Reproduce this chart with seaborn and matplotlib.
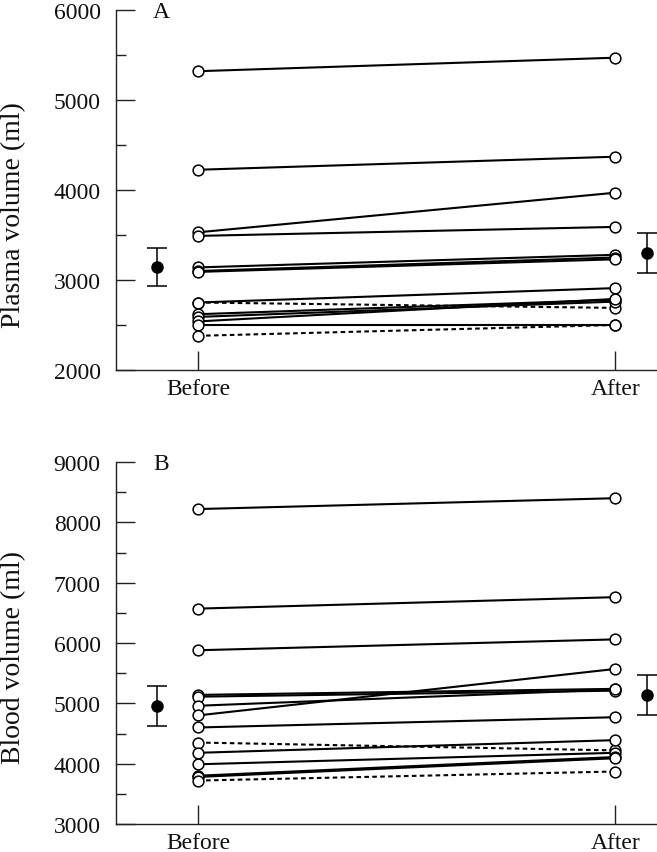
import numpy as np
import pandas as pd
import matplotlib
matplotlib.use("Agg")
import matplotlib.pyplot as plt
import seaborn as sns
from matplotlib.ticker import MultipleLocator

# ---------------- data ----------------
time_labels = ["Before", "After"]

plasma_before = [5320, 4225, 3530, 3490, 3140, 3100, 3090, 2750, 2750, 2620, 2590, 2540, 2500, 2380]
plasma_after  = [5470, 4370, 3970, 3590, 3280, 3250, 3230, 2910, 2690, 2780, 2760, 2790, 2500, 2500]
plasma_style  = ["s", "s", "s", "s", "s", "s", "s", "s", "d", "s", "s", "s", "s", "d"]
plasma_mean   = [3145, 3300]
plasma_sd     = [210, 225]

blood_before = [8220, 6570, 5880, 5140, 5110, 4960, 4800, 4600, 4350, 4180, 3990, 3800, 3780, 3720]
blood_after  = [8400, 6760, 6060, 5240, 5210, 5230, 5570, 4770, 4220, 4390, 4180, 4110, 4090, 3870]
blood_style  = ["s", "s", "s", "s", "s", "s", "s", "s", "d", "s", "s", "s", "s", "d"]
blood_mean   = [4960, 5140]
blood_sd     = [330, 335]

sns.set_style("ticks")
plt.rcParams["font.family"] = ["Liberation Serif", "DejaVu Serif"]

fig = plt.figure(figsize=(6.57, 8.53), dpi=100)
axA = fig.add_axes([116/657, 1-371/853, 1-116/657, (371-11)/853])
axB = fig.add_axes([116/657, 1-825/853, 1-116/657, (825-463)/853])

def long_df(before, after, style):
    rows = []
    for i, (b, a, s) in enumerate(zip(before, after, style)):
        rows.append(dict(subject=i, x=0, value=b, kind=s))
        rows.append(dict(subject=i, x=1, value=a, kind=s))
    return pd.DataFrame(rows)

def panel(ax, before, after, style, mean, sd, ylim, ylabel, letter, label_y):
    df = long_df(before, after, style)
    sns.lineplot(data=df, x="x", y="value", units="subject", estimator=None,
                 style="kind", dashes={"s": "", "d": (2.2, 1.6)},
                 color="black", linewidth=1.5, legend=False, ax=ax, zorder=2)
    sns.scatterplot(data=df, x="x", y="value", s=60, marker="o",
                    facecolor="white", edgecolor="black", linewidth=1.1,
                    legend=False, ax=ax, zorder=3)
    ax.errorbar([-0.098, 1.077], mean, yerr=sd, fmt="o", color="black",
                markersize=8, capsize=7, elinewidth=1.1, capthick=1.1, zorder=4)
    ax.set_xlim(-0.197, 1.10)
    ax.set_ylim(*ylim)
    ax.yaxis.set_major_locator(MultipleLocator(1000))
    ax.yaxis.set_minor_locator(MultipleLocator(500))
    ax.set_xticks([0, 1])
    ax.set_xticklabels(time_labels)
    ax.tick_params(axis="both", which="major", direction="in", length=14,
                   width=1.0, labelsize=17, color="#222222", labelcolor="#111111")
    ax.tick_params(axis="y", which="minor", direction="in", length=7, width=1.0,
                   color="#222222")
    ax.tick_params(axis="y", which="major", pad=11)
    ax.tick_params(axis="x", which="major", pad=6)
    ax.set_xlabel("")
    ax.set_ylabel("")
    for side in ["top", "right"]:
        ax.spines[side].set_visible(False)
    for side in ["left", "bottom"]:
        ax.spines[side].set_linewidth(1.0)
        ax.spines[side].set_color("#222222")
    ax.text(0.083, 0.997, letter, transform=ax.transAxes, fontsize=17,
            ha="center", va="center", color="#111111")
    fig.text(14/657, 1-label_y/853, ylabel, rotation=90, fontsize=20,
             ha="center", va="center", color="#111111")

panel(axA, plasma_before, plasma_after, plasma_style, plasma_mean, plasma_sd,
      (2000, 6000), "Plasma volume (ml)", "A", 215)
panel(axB, blood_before, blood_after, blood_style, blood_mean, blood_sd,
      (3000, 9000), "Blood volume (ml)", "B", 658)

fig.savefig("out.png", dpi=100)
